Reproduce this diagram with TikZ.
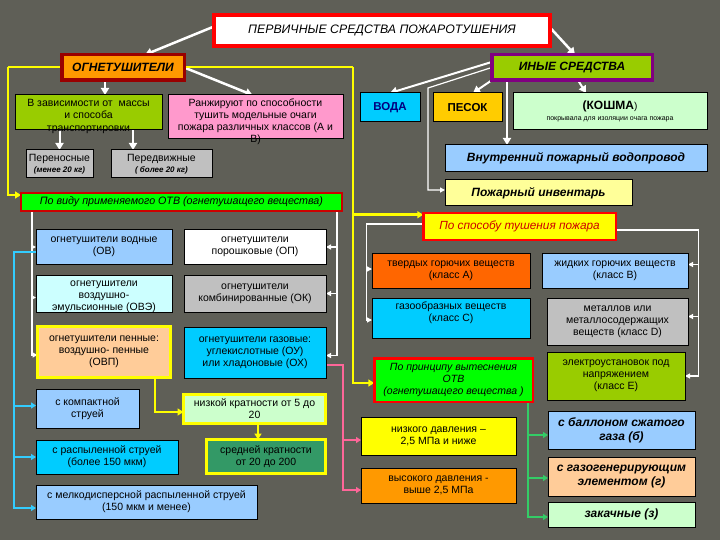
\documentclass[tikz,border=0pt]{standalone}
\usepackage{fontspec}
\setmainfont{Liberation Sans}
\usetikzlibrary{arrows.meta}
\definecolor{bgc}{HTML}{5F5F57}
\definecolor{cLB}{HTML}{99CCFF}
\definecolor{cCy}{HTML}{00CCFF}
\definecolor{cLC}{HTML}{CCFFFF}
\definecolor{cGr}{HTML}{C0C0C0}
\definecolor{cPe}{HTML}{FFCC99}
\definecolor{cLG}{HTML}{CCFFCC}
\definecolor{cDG}{HTML}{339966}
\definecolor{cYG}{HTML}{99CC00}
\definecolor{cPk}{HTML}{FF99CC}
\definecolor{cOr}{HTML}{FF9900}
\definecolor{cOR}{HTML}{FF6600}
\definecolor{cGo}{HTML}{FFCC00}
\definecolor{cLY}{HTML}{FFFF99}
\definecolor{cYe}{HTML}{FFFF00}
\definecolor{cBG}{HTML}{00FF00}
\definecolor{cMa}{HTML}{990000}
\definecolor{cPu}{HTML}{800080}
\definecolor{cNa}{HTML}{000080}
\definecolor{lnCy}{HTML}{33CCFF}
\definecolor{lnPk}{HTML}{FF6699}
\definecolor{lnGn}{HTML}{33CC66}
\definecolor{cRd}{HTML}{CC0000}
\newcommand{\tb}[3]{\parbox[c][#2pt][c]{#1pt}{\centering #3\par}}
\newcommand{\tbt}[4]{\parbox[c][#2pt][t]{#1pt}{\centering\vspace*{#3pt}#4\par}}
\pgfdeclarelayer{bgl}
\pgfdeclarelayer{conn}
\pgfsetlayers{bgl,conn,main}
\begin{document}
\begin{tikzpicture}[x=1pt,y=-1pt,
  bx/.style={draw=black, line width=1pt, inner sep=0pt, outer sep=0pt, font=\fontsize{10.5}{12}\selectfont},
  bi/.style={font=\fontsize{12}{14}\selectfont\bfseries\itshape},
  wa/.style={draw=white, line width=2.5pt, -{Triangle[length=7pt,width=8pt]}},
  wt/.style={draw=white, line width=1.2pt, -{Triangle[length=5pt,width=5pt]}},
  yl/.style={draw=cYe, line width=2.5pt, -{Triangle[length=6pt,width=7pt]}},
  yn/.style={draw=cYe, line width=2.5pt},
  cl/.style={draw=lnCy, line width=2pt, -{Triangle[length=5pt,width=6pt]}},
  pk/.style={draw=lnPk, line width=2pt, -{Triangle[length=5pt,width=6pt]}},
  gl/.style={draw=lnGn, line width=1.5pt, -{Triangle[length=5pt,width=6pt]}}
]
\begin{pgfonlayer}{bgl}
\path[fill=bgc, use as bounding box] (0,0) rectangle (720,540);
\end{pgfonlayer}

% top level
\node[bx, draw=red, line width=4pt, fill=white, font=\fontsize{12.3}{14}\selectfont\itshape] (perv) at (382,30.5) {\tb{336}{31}{ПЕРВИЧНЫЕ СРЕДСТВА ПОЖАРОТУШЕНИЯ}};
\node[bx, bi, draw=cMa, line width=3.5pt, fill=cOr] (ognet) at (123,67.5) {\tb{122.5}{25.5}{ОГНЕТУШИТЕЛИ}};
\node[bx, bi, draw=cPu, line width=3.5pt, fill=cYG] (inye) at (572,67.5) {\tb{160.5}{25.5}{ИНЫЕ СРЕДСТВА}};

% left branch top
\node[bx, fill=cYG, font=\fontsize{10.5}{12.5}\selectfont] (vzav) at (88.5,112.5) {\tbt{147}{35}{4}{В зависимости от\ \ массы\\и способа\\транспортировки}};
\node[bx, fill=cPk] (ranzh) at (255.5,117) {\tbt{175}{44}{4}{Ранжируют по способности\\тушить модельные очаги\\пожара различных классов (А и\\В)}};
\node[bx, fill=cGr] (peren) at (59.5,164) {\tb{67}{28}{Переносные\\[-1pt]{\fontsize{8}{9}\selectfont\bfseries\itshape(менее 20 кг)}}};
\node[bx, fill=cGr] (pered) at (161.5,164) {\tb{101}{28}{Передвижные\\[-1pt]{\fontsize{8}{9}\selectfont\bfseries\itshape( более 20 кг)}}};
\node[bx, draw=cRd, line width=2pt, fill=cBG, font=\fontsize{10.7}{12}\selectfont\itshape] (vidu) at (181.5,202) {\tb{321}{18}{По виду применяемого ОТВ (огнетушащего вещества)}};

% right branch top
\node[bx, fill=cCy, font=\fontsize{11.5}{13}\selectfont\bfseries, text=cNa] (voda) at (390,107.5) {\tb{60}{29}{ВОДА}};
\node[bx, fill=cGo, font=\fontsize{11.5}{13}\selectfont\bfseries] (pesok) at (467.5,107.5) {\tb{69}{29}{ПЕСОК}};
\node[bx, fill=cLG] (koshma) at (610,111.5) {\tb{194}{37}{{\fontsize{12}{13}\selectfont\bfseries (КОШМА}{\fontsize{10}{12}\selectfont)}\\[-1pt]{\fontsize{7}{8}\selectfont покрывала для изоляции очага пожара}}};
\node[bx, bi, fill=cLB] (vodopr) at (576,158.5) {\tb{262}{27}{Внутренний пожарный водопровод}};
\node[bx, bi, fill=cLY] (invent) at (538.5,193) {\tb{187}{26}{Пожарный инвентарь}};
\node[bx, draw=red, line width=2.5pt, fill=cYe, font=\fontsize{11.8}{13}\selectfont\itshape, text=cRd] (sposob) at (519.5,226.5) {\tb{192.5}{26.5}{По способу тушения пожара}};

% extinguisher types
\node[bx, fill=cLB] (ov) at (104,247) {\tb{136}{34}{огнетушители водные\\(ОВ)}};
\node[bx, fill=white] (op) at (255,247) {\tb{142}{34}{огнетушители\\порошковые (ОП)}};
\node[bx, fill=cLC] (ove) at (104,293.5) {\tbt{136}{37}{6}{огнетушители\\воздушно-\\эмульсионные (ОВЭ)}};
\node[bx, fill=cGr] (ok) at (255,293.5) {\tb{142}{37}{огнетушители\\комбинированные (ОК)}};
\node[bx, draw=cYe, line width=3pt, fill=cPe] (ovp) at (104,352) {\tb{133}{51}{огнетушители пенные:\\воздушно- пенные\\(ОВП)}};
\node[bx, fill=cCy] (ou) at (255,352.5) {\tb{142}{51}{огнетушители газовые:\\углекислотные (ОУ)\\или хладоновые (ОХ)}};
\node[bx, fill=cLB] (kompakt) at (87.5,408.5) {\tb{103}{39}{с компактной\\струей}};
\node[bx, fill=cCy] (raspyl) at (107,457) {\tb{142}{34}{с распыленной струей\\(более 150 мкм)}};
\node[bx, fill=cLB] (melko) at (146.5,502) {\tb{221}{34}{с мелкодисперсной распыленной струей\\(150 мкм и менее)}};
\node[bx, draw=cYe, line width=3pt, fill=cLG] (nizkrat) at (254.5,409) {\tb{142}{29}{низкой кратности от 5 до\\20}};
\node[bx, draw=cYe, line width=3pt, fill=cDG] (sredkrat) at (266,456.5) {\tb{119}{34}{средней кратности\\от 20 до 200}};

% fire classes
\node[bx, fill=cOR] (tverd) at (451,270.5) {\tb{158}{35}{твердых горючих веществ\\(класс А)}};
\node[bx, fill=cLB] (zhidk) at (615,270.5) {\tb{146}{35}{жидких горючих веществ\\(класс В)}};
\node[bx, fill=cCy] (gaz) at (451,318) {\tbt{158}{40}{4}{газообразных веществ\\(класс С)}};
\node[bx, fill=cGr] (metal) at (617.5,321.5) {\tb{141}{47}{металлов или\\металлосодержащих\\веществ (класс D)}};
\node[bx, draw=red, line width=2.5pt, fill=cBG, font=\fontsize{10.5}{12}\selectfont\itshape] (princip) at (453.5,380) {\tb{158.5}{43.5}{По принципу вытеснения\\ОТВ\\(огнетушащего вещества )}};
\node[bx, fill=cYG] (elektro) at (616,376) {\tb{138}{48}{электроустановок под\\напряжением\\(класс Е)}};
\node[bx, fill=cYe] (nizdav) at (438.5,436) {\tb{155}{38}{низкого давления –\\2,5 МПа и ниже}};
\node[bx, fill=cOr] (vysdav) at (438.5,485.5) {\tb{155}{35}{высокого давления -\\выше 2,5 МПа}};
\node[bx, bi, fill=cLB] (ballon) at (621.5,430) {\tb{147}{38}{с баллоном сжатого\\газа (б)}};
\node[bx, bi, fill=cPe] (gazogen) at (621.5,476.5) {\tb{147}{39}{с газогенерирующим\\элементом (г)}};
\node[bx, bi, fill=cLG] (zakach) at (621.5,514.5) {\tb{147}{25}{закачные (з)}};

\begin{pgfonlayer}{conn}
% top white arrows
\draw[wa] ([yshift=4pt]perv.west) -- ([xshift=22pt]ognet.north);
\draw[wa] ([yshift=3pt]perv.east) -- ([xshift=3pt]inye.north);
\draw[wa, line width=2pt] ([xshift=-18pt]ognet.south) -- ([xshift=16.5pt]vzav.north);
\draw[wa] (ognet.east) -- ([xshift=-3pt]ranzh.north);
\draw[wa, line width=2pt] ([xshift=-29pt]vzav.south) -- (peren.north);
\draw[wa, line width=2pt] ([xshift=44.5pt]vzav.south) -- ([xshift=-28.5pt]pered.north);
\draw[wa, line width=2pt] ([yshift=5.5pt]inye.west) -- (voda.north);
\draw[wa, line width=2pt] (inye.south west) -- ([xshift=5.5pt]pesok.north);
\draw[wa, line width=2pt] ([xshift=6pt]inye.south) -- ([xshift=-24pt]koshma.north);
\draw[wa, line width=2pt] ([xshift=-65pt]inye.south) -- ([xshift=-69pt]vodopr.north);
\coordinate (c1) at (428,88);
\draw[wt] (inye.west) -- (c1) |- ([yshift=3pt]invent.west);

% yellow frame
\coordinate (yL) at (8,67);
\coordinate (yR) at (353,67);
\draw[yn] (yL) -- (yR);
\draw[yl] (yL) |- ([yshift=7pt]vidu.west);
\draw[yl] (yR) |- ([yshift=-3pt]princip.west);
\coordinate (sp) at ([yshift=-1.5pt]sposob.north west);
\draw[yl] (sp -| yR) -- (sp);
\draw[yl] ([xshift=51pt]ovp.south) |- ([yshift=-3pt]nizkrat.west);
\draw[yl, line width=2pt] ([xshift=3.5pt]nizkrat.south) -- ([xshift=-8pt]sredkrat.north);

% white lines from vidu
\coordinate (wl) at (32,212);
\coordinate (wr) at (337,212);
\draw[wt] (wl) |- (ov.west);
\draw[wt] (wl) |- ([yshift=-4pt]ove.west);
\draw[wt] (wl) |- ([yshift=-3pt]ovp.west);
\draw[wt] (wr) |- (op.east);
\draw[wt] (wr) |- (ok.east);
\draw[wt] (wr) |- ([yshift=-3pt]ou.east);

% cyan lines
\draw[cl] ([yshift=-5pt]ov.west) -- ++(-22,0) |- ([yshift=3pt]kompakt.west);
\draw[cl] ([yshift=-5pt]ov.west) -- ++(-22,0) |- (raspyl.west);
\draw[cl] ([yshift=-5pt]ov.west) -- ++(-22,0) |- ([yshift=-6pt]melko.west);

% white lines from sposob
\draw[wt] ([yshift=2.5pt]sposob.west) -- ++(-57,0) |- ([yshift=1.5pt]tverd.west);
\draw[wt] ([yshift=2.5pt]sposob.west) -- ++(-57,0) |- ([yshift=-2pt]gaz.west);
\draw[wt] ([yshift=-3.5pt]sposob.east) -- ++(83,0) |- ([yshift=6pt]zhidk.east);
\draw[wt] ([yshift=-3.5pt]sposob.east) -- ++(83,0) |- ([yshift=5pt]metal.east);
\draw[wt] ([yshift=-3.5pt]sposob.east) -- ++(83,0) |- (elektro.east);

% pink lines
\draw[pk] ([yshift=-12.5pt]ou.east) -- ++(17,0) |- ([yshift=-4pt]nizdav.west);
\draw[pk] ([yshift=-12.5pt]ou.east) -- ++(17,0) |- ([yshift=-4.5pt]vysdav.west);

% green lines
\draw[gl] ([xshift=-5pt]princip.south east) |- ([yshift=-5pt]ballon.west);
\draw[gl] ([xshift=-5pt]princip.south east) |- ([yshift=-1.5pt]gazogen.west);
\draw[gl] ([xshift=-5pt]princip.south east) |- ([yshift=-2.5pt]zakach.west);
\end{pgfonlayer}
\end{tikzpicture}
\end{document}
